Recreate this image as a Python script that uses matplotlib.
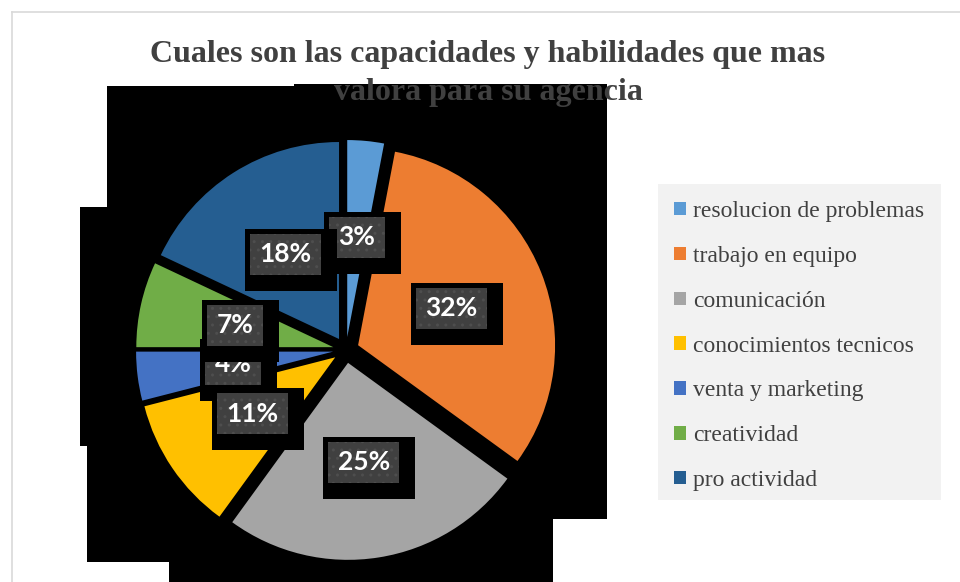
import matplotlib.pyplot as plt
from matplotlib.patches import Rectangle
from matplotlib.lines import Line2D
from matplotlib.transforms import IdentityTransform

categories = ['resolucion de problemas', 'trabajo en equipo', 'comunicación',
              'conocimientos tecnicos', 'venta y marketing', 'creatividad',
              'pro actividad']
shares = [3, 32, 25, 11, 4, 7, 18]
colors = ['#5B9BD5', '#ED7D31', '#A5A5A5', '#FFC000', '#4472C4', '#70AD47', '#255E91']
title_lines = ['Cuales son las capacidades y habilidades que mas',
               'valora para su agencia']

W, H = 960, 582
fig = plt.figure(figsize=(W / 100, H / 100), dpi=100)
px = IdentityTransform()


def box(x0, y0, x1, y1, **kw):
    # rectangle in pixels, measured from the top-left corner
    return Rectangle((x0, H - y1), x1 - x0, y1 - y0, transform=px, **kw)


# chart area border
fig.add_artist(Line2D([12, 12], [0, H - 12], transform=px, color='#d9d9d9', lw=1.2))
fig.add_artist(Line2D([12, W], [H - 12, H - 12], transform=px, color='#d9d9d9', lw=1.2))

# black blocks behind the pie
for x0, y0, x1, y1 in [(107, 86, 294, 519), (294, 84, 607, 519), (80, 207, 300, 446),
                       (87, 446, 553, 562), (169, 446, 553, 582)]:
    fig.add_artist(box(x0, y0, x1, y1, facecolor='black', edgecolor='none', zorder=-1))

# pie
cx, cy, r = 346, 350, 197
side = 2.5 * r
ax = fig.add_axes([(cx - side / 2) / W, (H - cy - side / 2) / H, side / W, side / H])
ax.patch.set_visible(False)
wedges, texts, autotexts = ax.pie(
    shares, colors=colors, startangle=90, counterclock=False,
    explode=[0.066] * len(shares), autopct=lambda p: f'{p:.0f}%', pctdistance=0.51,
    textprops=dict(color='white', fontsize=19, fontweight='bold', family='Lato'))
ax.set_xlim(-1.25, 1.25)
ax.set_ylim(-1.25, 1.25)

# label boxes: dark dotted box with a black block behind it
fig.canvas.draw()
renderer = fig.canvas.get_renderer()
order = [0, 1, 2, 4, 5, 3, 6]
for k, i in enumerate(order):
    t = autotexts[i]
    x, y = ax.transData.transform(t.get_position())
    y = H - y
    hw = (t.get_window_extent(renderer).width + 19) / 2
    g = (x - hw, y - 20.5, x + hw, y + 20.5)
    z = 3 + k * 0.1
    ax.add_patch(box(g[0] - 5, g[1] - 5, g[2] + 16, g[3] + 16, facecolor='black',
                     edgecolor='none', zorder=z, clip_on=False))
    ax.add_patch(box(*g, facecolor='#404040', edgecolor='#4e4e4e', linewidth=0,
                     hatch='..', zorder=z + 0.03, clip_on=False))
    t.set_zorder(z + 0.06)

# title
for line, base in zip(title_lines, [62, 100]):
    fig.text(488 / W, 1 - base / H, line, ha='center', va='baseline', fontsize=23,
             family='Liberation Serif', fontweight='bold', color='#404040')

# legend
fig.add_artist(box(658, 184, 941, 500, facecolor='#f2f2f2', edgecolor='none', zorder=2))
handles = [Rectangle((0, 0), 1, 1, facecolor=c, edgecolor='none') for c in colors]
fig.legend(handles, categories, loc='upper left', bbox_to_anchor=(674 / W, 1 - 201 / H),
           borderaxespad=0, borderpad=0, frameon=False,
           prop=dict(family='Liberation Serif', size=17), labelcolor='#404040',
           handlelength=0.5, handleheight=0.5, handletextpad=0.3, labelspacing=1.01)

fig.savefig('out.png', dpi=100)
